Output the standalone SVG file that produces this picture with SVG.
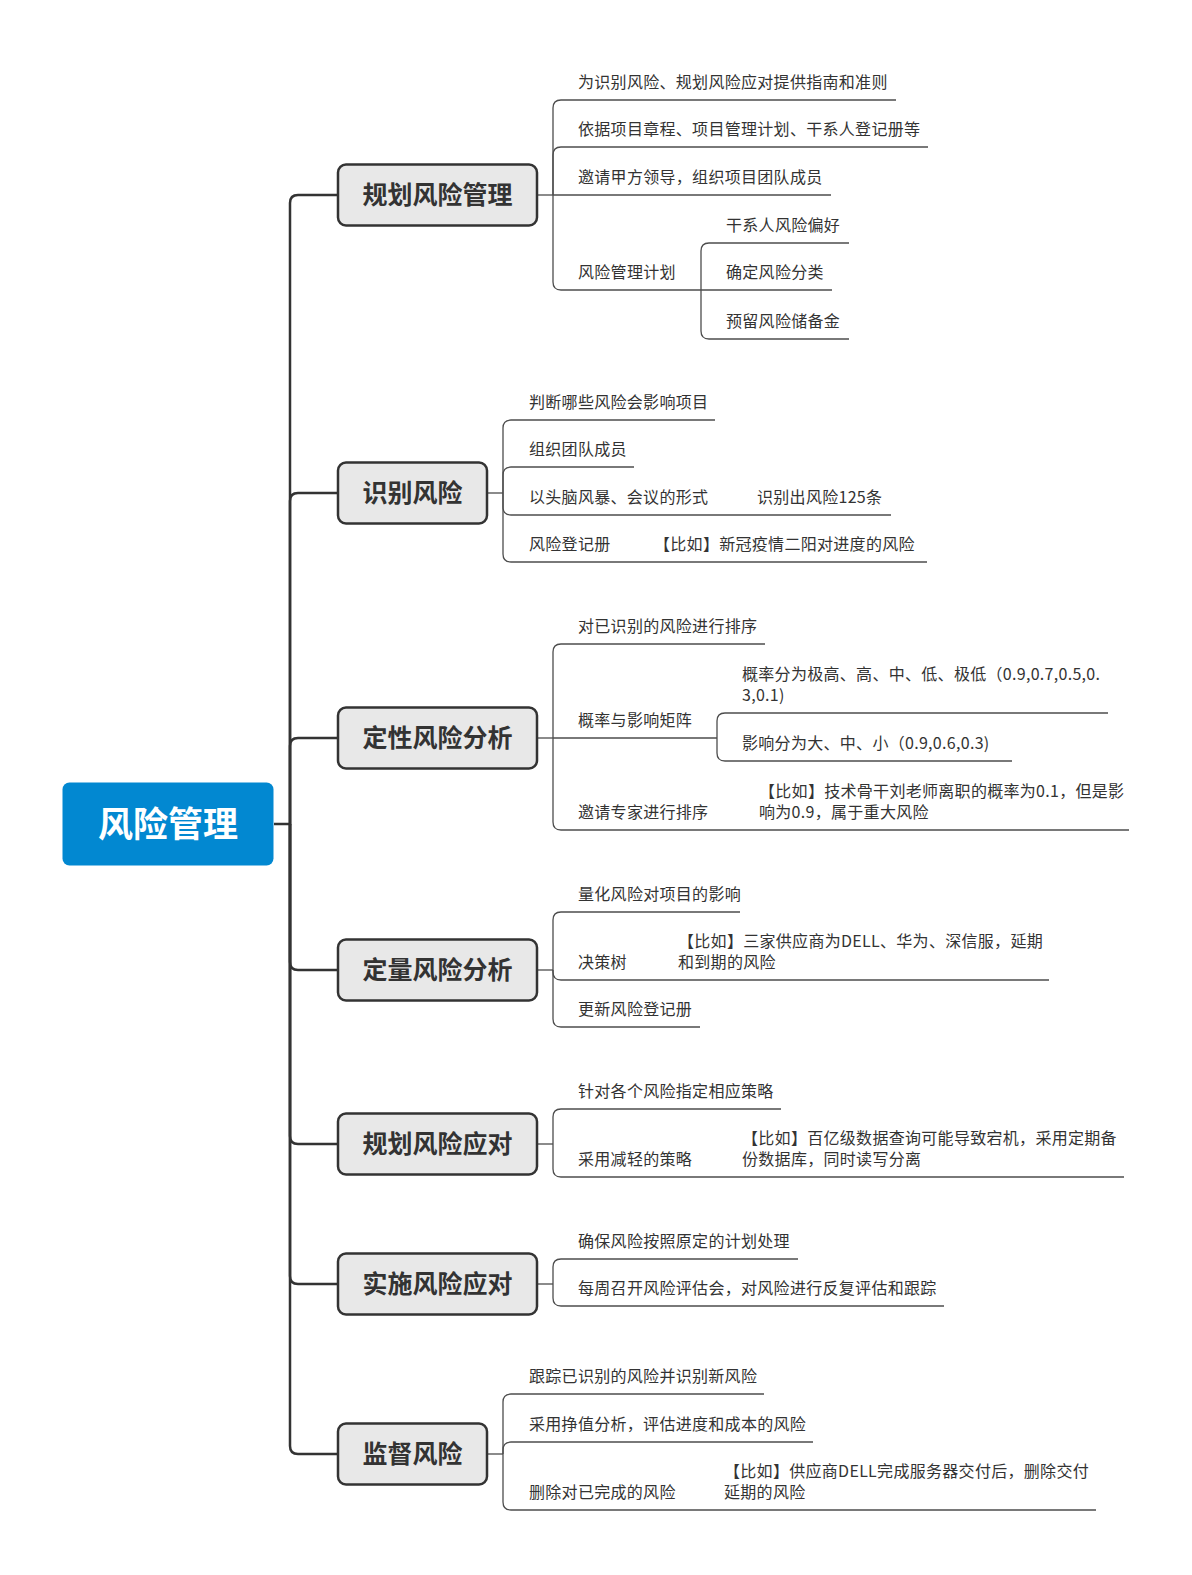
<svg xmlns="http://www.w3.org/2000/svg" width="1192" height="1575" viewBox="0 0 1192 1575">
<style>
.t{font-family:"Noto Sans CJK SC","Noto Sans",sans-serif;font-size:16px;letter-spacing:0.3px;fill:#333}
.nt{font-family:"Noto Sans CJK SC","Noto Sans",sans-serif;font-size:25px;font-weight:bold;fill:#333;text-anchor:middle}
.rt{font-family:"Noto Sans CJK SC","Noto Sans",sans-serif;font-size:35px;font-weight:bold;fill:#fff;text-anchor:middle}
.n{fill:#e8e8e8;stroke:#333;stroke-width:2.5}
.trunk{fill:none;stroke:#333;stroke-width:2.5}
.c{fill:none;stroke:#4d4d4d;stroke-width:1.3}
</style>
<rect width="1192" height="1575" fill="#fff"/>
<g id="connectors">
<path class="trunk" d="M274,824H290V203Q290,195 298,195H338"/>
<path class="trunk" d="M290,824V501Q290,493 298,493H338"/>
<path class="trunk" d="M290,824V746Q290,738 298,738H338"/>
<path class="trunk" d="M290,824V962Q290,970 298,970H338"/>
<path class="trunk" d="M290,824V1136Q290,1144 298,1144H338"/>
<path class="trunk" d="M290,824V1276Q290,1284 298,1284H338"/>
<path class="trunk" d="M290,824V1446Q290,1454 298,1454H338"/>
<!-- branch 1 -->
<path class="c" d="M537,195H553"/>
<path class="c" d="M553,195V108Q553,100 561,100H896"/>
<path class="c" d="M553,195V155Q553,147 561,147H928"/>
<path class="c" d="M553,195H831"/>
<path class="c" d="M553,195V282Q553,290 561,290H701"/>
<path class="c" d="M701,290V251Q701,243 709,243H849"/>
<path class="c" d="M701,290H832"/>
<path class="c" d="M701,290V331Q701,339 709,339H849"/>
<!-- branch 2 -->
<path class="c" d="M487,493H503"/>
<path class="c" d="M503,493V428Q503,420 511,420H715"/>
<path class="c" d="M503,493V475Q503,467 511,467H634"/>
<path class="c" d="M503,493V507Q503,515 511,515H891"/>
<path class="c" d="M503,493V554Q503,562 511,562H927"/>
<!-- branch 3 -->
<path class="c" d="M537,738H553"/>
<path class="c" d="M553,738V652Q553,644 561,644H765"/>
<path class="c" d="M553,738H717"/>
<path class="c" d="M717,738V721Q717,713 725,713H1108"/>
<path class="c" d="M717,738V753Q717,761 725,761H1012"/>
<path class="c" d="M553,738V822Q553,830 561,830H1129"/>
<!-- branch 4 -->
<path class="c" d="M537,970H553"/>
<path class="c" d="M553,970V920Q553,912 561,912H740"/>
<path class="c" d="M553,970V972Q553,980 561,980H1049"/>
<path class="c" d="M553,970V1019Q553,1027 561,1027H700"/>
<!-- branch 5 -->
<path class="c" d="M537,1144H553"/>
<path class="c" d="M553,1144V1117Q553,1109 561,1109H781"/>
<path class="c" d="M553,1144V1169Q553,1177 561,1177H1124"/>
<!-- branch 6 -->
<path class="c" d="M537,1284H553"/>
<path class="c" d="M553,1284V1267Q553,1259 561,1259H798"/>
<path class="c" d="M553,1284V1298Q553,1306 561,1306H944"/>
<!-- branch 7 -->
<path class="c" d="M487,1454H503"/>
<path class="c" d="M503,1454V1402Q503,1394 511,1394H764"/>
<path class="c" d="M503,1454V1450Q503,1442 511,1442H813"/>
<path class="c" d="M503,1454V1502Q503,1510 511,1510H1096"/>
</g>
<g id="root">
<rect x="62.5" y="782.5" width="211" height="83" rx="7" fill="#0288d1"/>
<text class="rt" x="168" y="837">风险管理</text>
</g>
<g id="n1">
<rect class="n" x="338" y="164.5" width="199" height="61" rx="8"/>
<text class="nt" x="437.5" y="204">规划风险管理</text>
</g>
<g id="n2">
<rect class="n" x="338" y="462.5" width="149" height="61" rx="8"/>
<text class="nt" x="412.5" y="502">识别风险</text>
</g>
<g id="n3">
<rect class="n" x="338" y="707.5" width="199" height="61" rx="8"/>
<text class="nt" x="437.5" y="747">定性风险分析</text>
</g>
<g id="n4">
<rect class="n" x="338" y="939.5" width="199" height="61" rx="8"/>
<text class="nt" x="437.5" y="979">定量风险分析</text>
</g>
<g id="n5">
<rect class="n" x="338" y="1113.5" width="199" height="61" rx="8"/>
<text class="nt" x="437.5" y="1153">规划风险应对</text>
</g>
<g id="n6">
<rect class="n" x="338" y="1253.5" width="199" height="61" rx="8"/>
<text class="nt" x="437.5" y="1293">实施风险应对</text>
</g>
<g id="n7">
<rect class="n" x="338" y="1423.5" width="149" height="61" rx="8"/>
<text class="nt" x="412.5" y="1463">监督风险</text>
</g>
<g id="b1-children">
<text class="t" x="578" y="88">为识别风险、规划风险应对提供指南和准则</text>
<text class="t" x="578" y="135">依据项目章程、项目管理计划、干系人登记册等</text>
<text class="t" x="578" y="183">邀请甲方领导，组织项目团队成员</text>
<text class="t" x="578" y="278">风险管理计划</text>
<text class="t" x="726" y="231">干系人风险偏好</text>
<text class="t" x="726" y="278">确定风险分类</text>
<text class="t" x="726" y="327">预留风险储备金</text>
</g>
<g id="b2-children">
<text class="t" x="529" y="408">判断哪些风险会影响项目</text>
<text class="t" x="529" y="455">组织团队成员</text>
<text class="t" x="529" y="503">以头脑风暴、会议的形式</text>
<text class="t" x="757" y="503">识别出风险125条</text>
<text class="t" x="529" y="550">风险登记册</text>
<text class="t" x="654" y="550">【比如】新冠疫情二阳对进度的风险</text>
</g>
<g id="b3-children">
<text class="t" x="578" y="632">对已识别的风险进行排序</text>
<text class="t" x="578" y="726">概率与影响矩阵</text>
<text class="t" x="742" y="680">概率分为极高、高、中、低、极低（0.9,0.7,0.5,0.</text>
<text class="t" x="742" y="701">3,0.1)</text>
<text class="t" x="742" y="749">影响分为大、中、小（0.9,0.6,0.3)</text>
<text class="t" x="578" y="818">邀请专家进行排序</text>
<text class="t" x="759" y="797">【比如】技术骨干刘老师离职的概率为0.1，但是影</text>
<text class="t" x="759" y="818">响为0.9，属于重大风险</text>
</g>
<g id="b4-children">
<text class="t" x="578" y="900">量化风险对项目的影响</text>
<text class="t" x="578" y="968">决策树</text>
<text class="t" x="678" y="947">【比如】三家供应商为DELL、华为、深信服，延期</text>
<text class="t" x="678" y="968">和到期的风险</text>
<text class="t" x="578" y="1015">更新风险登记册</text>
</g>
<g id="b5-children">
<text class="t" x="578" y="1097">针对各个风险指定相应策略</text>
<text class="t" x="578" y="1165">采用减轻的策略</text>
<text class="t" x="742" y="1144">【比如】百亿级数据查询可能导致宕机，采用定期备</text>
<text class="t" x="742" y="1165">份数据库，同时读写分离</text>
</g>
<g id="b6-children">
<text class="t" x="578" y="1247">确保风险按照原定的计划处理</text>
<text class="t" x="578" y="1294">每周召开风险评估会，对风险进行反复评估和跟踪</text>
</g>
<g id="b7-children">
<text class="t" x="529" y="1382">跟踪已识别的风险并识别新风险</text>
<text class="t" x="529" y="1430">采用挣值分析，评估进度和成本的风险</text>
<text class="t" x="529" y="1498">删除对已完成的风险</text>
<text class="t" x="724" y="1477">【比如】供应商DELL完成服务器交付后，删除交付</text>
<text class="t" x="724" y="1498">延期的风险</text>
</g>
</svg>
